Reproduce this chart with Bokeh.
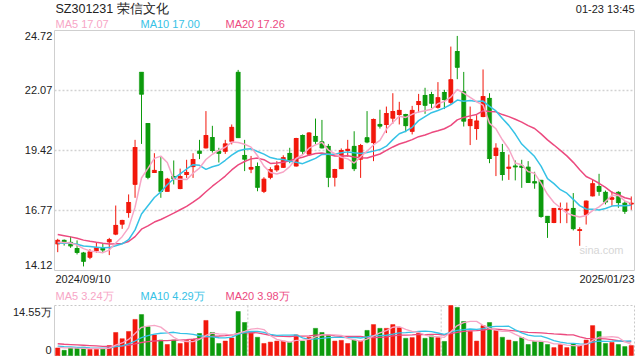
import pandas as pd
from bokeh.plotting import figure
from bokeh.models import Range1d, ColumnDataSource
from bokeh.core.properties import value
from bokeh.embed import file_html
from bokeh.resources import INLINE

# ---------------- data ----------------
title_text = "SZ301231 荣信文化"
timestamp_text = "01-23 13:45"
date_labels = ["2024/09/10", "2025/01/23"]
price_ticks = [14.12, 16.77, 19.42, 22.07, 24.72]
volume_tick_labels = ["0", "14.55万"]
volume_max = 14.55
ma_windows = [5, 10, 20]
price_ma_legend = ["17.07", "17.00", "17.26"]
volume_ma_legend = ["3.24万", "4.29万", "3.98万"]
watermark = "sina.com"

opens = [15.30, 15.45, 15.36, 15.09, 14.89, 14.71, 15.00, 15.09, 15.39, 15.73,
         16.17, 16.68, 17.93, 22.87, 20.61, 18.45, 18.49, 17.62, 18.27, 17.74,
         18.36, 18.71, 19.39, 19.54, 19.99, 19.39, 19.39, 19.83, 22.87, 19.20,
         18.60, 18.71, 17.62, 18.24, 18.57, 18.68, 19.29, 18.74, 20.08, 19.26,
         20.04, 19.80, 19.60, 18.24, 18.62, 19.42, 19.60, 19.04, 19.98, 19.77,
         20.57, 20.57, 20.85, 21.01, 21.01, 20.27, 21.45, 21.85, 21.89, 21.33,
         21.98, 21.55, 23.79, 22.01, 20.52, 20.39, 20.92, 21.72, 19.20, 19.33,
         18.64, 18.73, 18.73, 18.68, 18.04, 18.10, 16.51, 16.24, 16.82, 16.79,
         16.86, 15.89, 16.59, 17.42, 17.83, 17.57, 17.27, 17.57, 17.09, 17.06]
highs = [15.52, 15.49, 15.62, 15.45, 14.94, 15.06, 15.36, 15.30, 15.56, 16.99,
         16.36, 17.48, 19.89, 22.87, 20.61, 19.30, 19.13, 18.21, 18.98, 18.62,
         19.01, 19.30, 19.89, 21.16, 20.51, 19.54, 19.89, 20.57, 22.98, 19.89,
         19.18, 18.89, 18.24, 18.68, 18.95, 19.21, 19.54, 19.98, 20.13, 20.23,
         20.83, 20.77, 19.71, 18.61, 19.51, 19.89, 20.27, 19.71, 21.16, 20.83,
         21.22, 21.36, 21.95, 21.57, 21.04, 21.39, 21.92, 22.19, 22.01, 22.44,
         22.10, 24.01, 24.48, 22.89, 21.36, 20.98, 23.00, 21.95, 19.74, 19.71,
         19.24, 18.98, 19.01, 18.95, 18.48, 18.12, 16.51, 16.86, 17.12, 17.12,
         17.54, 16.03, 17.21, 18.12, 18.39, 17.65, 17.62, 17.62, 17.18, 17.39]
lows = [14.93, 15.22, 15.12, 14.83, 14.30, 14.62, 14.91, 14.89, 14.80, 15.68,
        15.96, 16.45, 17.33, 19.71, 18.15, 18.45, 17.33, 17.62, 17.92, 17.71,
        18.21, 18.21, 19.04, 19.51, 19.33, 18.89, 19.27, 19.69, 19.99, 18.51,
        18.42, 17.62, 17.54, 18.15, 18.48, 18.65, 18.86, 18.71, 19.24, 19.21,
        19.71, 19.51, 17.80, 17.83, 18.60, 19.15, 18.51, 18.21, 19.74, 18.95,
        20.39, 20.19, 20.60, 20.57, 20.23, 20.13, 21.10, 21.04, 21.30, 21.27,
        21.25, 21.48, 22.57, 20.48, 19.66, 19.89, 20.89, 18.86, 18.29, 18.09,
        18.12, 18.10, 17.77, 18.01, 17.73, 16.45, 15.56, 16.21, 16.21, 16.21,
        15.89, 15.21, 16.15, 17.39, 17.42, 17.04, 16.98, 16.89, 16.62, 16.80]
closes = [15.45, 15.33, 15.21, 14.92, 14.53, 14.94, 15.12, 15.03, 15.48, 16.11,
          16.33, 17.12, 19.55, 21.91, 18.24, 18.54, 17.62, 18.15, 18.18, 18.27,
          18.45, 19.02, 19.30, 20.08, 19.42, 19.30, 19.71, 20.44, 19.99, 19.04,
          18.67, 17.80, 18.15, 18.57, 18.74, 19.10, 18.98, 19.95, 19.39, 20.19,
          19.83, 19.54, 18.24, 18.58, 19.42, 19.47, 18.62, 19.64, 19.80, 20.79,
          20.50, 21.05, 21.14, 21.19, 20.52, 21.19, 21.58, 21.42, 21.51, 21.75,
          21.67, 22.54, 23.10, 20.72, 20.79, 20.72, 21.80, 19.07, 19.52, 18.36,
          18.68, 18.70, 18.68, 18.01, 17.99, 16.51, 16.24, 16.86, 16.85, 16.82,
          15.97, 15.92, 17.18, 17.95, 17.62, 17.15, 17.33, 17.12, 16.74, 17.09]
volumes = [2.2, 1.5, 2.2, 2.2, 2.4, 1.8, 1.8, 1.9, 2.9, 6.7,
           4.9, 7.0, 10.5, 11.9, 8.4, 6.0, 4.5, 3.2, 4.5, 3.5,
           4.4, 4.7, 6.4, 10.2, 6.7, 3.5, 4.2, 5.1, 12.8, 9.6,
           6.6, 5.3, 3.5, 3.9, 4.2, 4.2, 3.8, 6.0, 4.2, 5.3,
           7.9, 6.7, 6.0, 4.2, 4.4, 3.5, 4.5, 4.2, 7.3, 9.0,
           7.9, 7.9, 9.0, 8.1, 5.0, 5.2, 6.5, 5.0, 5.7, 5.2,
           4.1, 14.55, 14.0, 9.9, 7.0, 4.2, 8.7, 9.6, 7.3, 5.3,
           4.5, 4.1, 5.2, 3.2, 4.1, 4.1, 3.2, 2.3, 3.2, 2.3,
           3.5, 2.9, 4.5, 8.7, 7.0, 3.5, 3.8, 3.2, 2.6, 2.9]
# sessions before the visible window (needed for the moving averages)
prior_closes = [16.35, 16.28, 16.10, 16.22, 15.98, 16.05, 15.90, 16.02, 15.96, 16.04,
                15.40, 15.25, 15.30, 15.28, 15.22, 15.40, 15.32, 15.38, 15.30]
prior_volumes = [4.5, 3.9, 4.2, 4.4, 3.8, 4.0, 4.3, 3.7, 4.1, 4.1,
                 3.2, 2.9, 3.3, 2.8, 2.9, 2.6, 2.4, 2.5, 2.6]

# ---------------- styles / layout (pixels) ----------------
RED = "#f2170b"
GREEN = "#0c9a0c"
MA_COLORS = ["#f7a6c6", "#36c2e6", "#ec4a7f"]
FONT = value("Liberation Sans")
TXT = "#222222"
W, H = 640, 360
CL, CR = 54, 634          # chart left / right
CT, CB = 30, 270          # price chart top / bottom
VT, VB = 305, 355         # volume chart top / bottom

n = len(closes)
xs = list(range(n))
colors = [RED if c >= o else GREEN for o, c in zip(opens, closes)]
src = ColumnDataSource(dict(
    x=xs, open=opens, close=closes, high=highs, low=lows, vol=volumes, color=colors,
    top=[max(o, c) for o, c in zip(opens, closes)],
    bottom=[min(o, c) for o, c in zip(opens, closes)],
))
npre = len(prior_closes)
close_ma = {w: pd.Series(prior_closes + closes).rolling(w).mean().iloc[npre:].tolist() for w in ma_windows}
vol_ma = {w: pd.Series(prior_volumes + volumes).rolling(w).mean().iloc[npre:].tolist() for w in ma_windows}

pmin, pmax = price_ticks[0], price_ticks[-1]
PPX = (CR - CL) / n
PPY = (CB - CT) / (pmax - pmin)
VPP = (VB - VT) / volume_max
x_lo, x_hi = -0.5, n - 0.5


def dx(px):
    return x_lo + (px - CL) / PPX


def dy1(py):
    return pmax - (py - CT) / PPY


def dy2(py):
    return volume_max - (py - VT) / VPP


BW = 0.66

p = figure(width=W, height=H, x_range=Range1d(dx(0), dx(W)), y_range=Range1d(dy1(H), dy1(0)),
           output_backend="svg", toolbar_location=None, min_border=0)
p.extra_y_ranges = {"vol": Range1d(dy2(H), dy2(0))}
p.axis.visible = False
p.grid.visible = False
p.outline_line_color = None


def txt(x, y, s, color=TXT, size="11px", align="left", rng="default"):
    p.text(x=[x], y=[y], text=[s], text_font=FONT, text_font_size=size, text_color=color,
           text_align=align, text_baseline="middle", y_range_name=rng)


# ---------------- price chart ----------------
mid = price_ticks[1:-1]
p.segment(x0=[x_lo] * len(mid), y0=mid, x1=[x_hi] * len(mid), y1=mid,
          line_color="#d2d2d2", line_dash="2 2", line_width=1.5)
p.quad(left=[x_lo], right=[x_hi], bottom=[pmin], top=[pmax], fill_color=None,
       line_color="#cfcfcf", line_width=1)

p.segment(x0="x", y0="low", x1="x", y1="high", color="color", line_width=1, source=src)
p.vbar(x="x", top="top", bottom="bottom", width=BW, fill_color="color", line_color="color",
       line_width=0.5, source=src)
src_caps = ColumnDataSource(dict(x0=[x - BW / 2 for x in xs], x1=[x + BW / 2 for x in xs],
                                 o=opens, c=closes, color=colors))
p.segment(x0="x0", y0="o", x1="x1", y1="o", color="color", line_width=1, source=src_caps)
p.segment(x0="x0", y0="c", x1="x1", y1="c", color="color", line_width=1, source=src_caps)
for w, col in zip(ma_windows[::-1], MA_COLORS[::-1]):
    p.line(xs, close_ma[w], line_color=col, line_width=1.5)

for i, t in enumerate(price_ticks):
    shift = 5 if i == len(price_ticks) - 1 else (-6 if i == 0 else -0.5)
    txt(dx(51.8), t - shift / PPY, f"{t:.2f}", align="right")
txt(dx(55), dy1(278), date_labels[0])
txt(dx(634), dy1(278), date_labels[1], align="right")
txt(dx(55), dy1(8.5), title_text, size="12.5px")
txt(dx(634), dy1(8.5), timestamp_text, align="right")
for k, (w, val, col) in enumerate(zip(ma_windows, price_ma_legend, MA_COLORS)):
    txt(dx(55 + 85 * k), dy1(23.5), f"MA{w} {val}", color=col)
txt(dx(623), dy1(249), watermark, color="#d6d6d6", size="11px", align="right")

# ---------------- volume chart ----------------
thirds = [x_lo + n / 3, x_lo + 2 * n / 3]
p.segment(x0=thirds, y0=[0, 0], x1=thirds, y1=[volume_max] * 2, y_range_name="vol",
          line_color="#c8c8c8", line_dash="2 2", line_width=1)
p.quad(left=[x_lo], right=[x_hi], bottom=[0], top=[volume_max], fill_color=None,
       line_color="#c8c8c8", line_dash="2 2", line_width=1, y_range_name="vol")
p.segment(x0=[x_lo], y0=[0], x1=[x_lo], y1=[volume_max], line_color="#cfcfcf",
          line_width=1, y_range_name="vol")

p.vbar(x="x", top="vol", bottom=0, width=BW, fill_color="color", line_color="color",
       line_width=0.5, source=src, y_range_name="vol")
for w, col in zip(ma_windows[::-1], MA_COLORS[::-1]):
    p.line(xs, vol_ma[w], line_color=col, line_width=1.3, y_range_name="vol")

txt(dx(51), volume_max - 6.5 / VPP, volume_tick_labels[1], align="right", rng="vol")
txt(dx(51), 6 / VPP, volume_tick_labels[0], align="right", rng="vol")
for k, (w, val, col) in enumerate(zip(ma_windows, volume_ma_legend, MA_COLORS)):
    txt(dx(55 + 85 * k), dy2(295), f"MA{w} {val}", color=col, rng="vol")

open("out.html", "w").write(file_html(p, INLINE))
